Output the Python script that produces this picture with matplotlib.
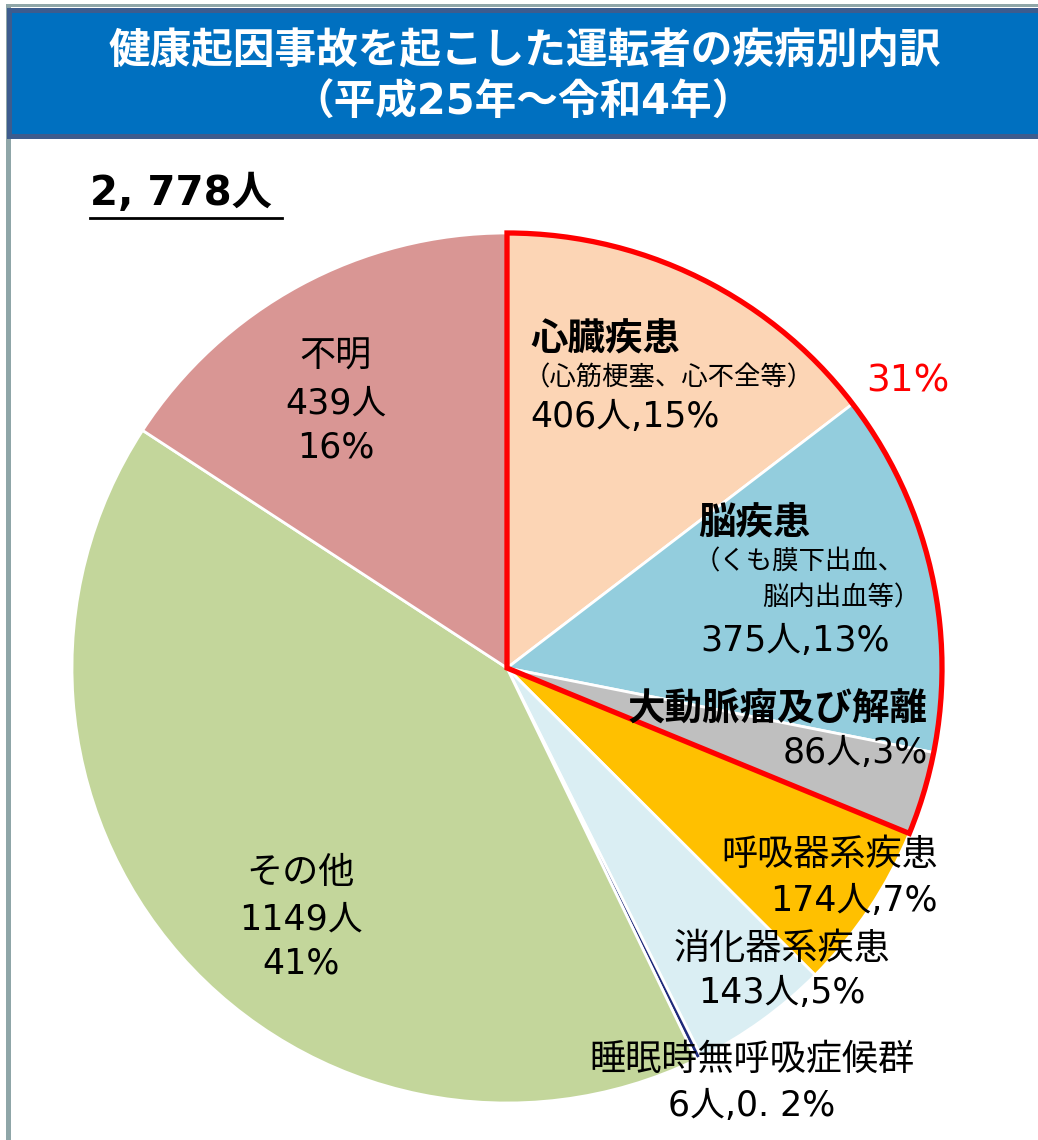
"""
Pie chart: 健康起因事故を起こした運転者の疾病別内訳 (平成25年～令和4年)
Output: out.png (1038 x 1140 px)
"""

import matplotlib
matplotlib.use('Agg')
import matplotlib.pyplot as plt
from matplotlib.patches import Rectangle, Wedge

plt.rcParams['font.family'] = ['Noto Sans CJK JP', 'DejaVu Sans']
NUM_FONT = ['DejaVu Sans', 'Noto Sans CJK JP']   # wider latin digits

# ── Data ───────────────────────────────────────────────────────────────────────
CATEGORIES = ['心臓疾患', '脳疾患', '大動脈瘤及び解離', '呼吸器系疾患',
              '消化器系疾患', '睡眠時無呼吸症候群', 'その他', '不明']
COUNTS     = [406, 375, 86, 174, 143, 6, 1149, 439]
PERCENTS   = ['15%', '13%', '3%', '7%', '5%', '0. 2%', '41%', '16%']
COLORS     = ['#FCD5B5', '#93CDDD', '#BFBFBF', '#FFC000',
              '#DAEEF3', '#1F2A7A', '#C3D69B', '#D99694']
N_HILITE   = 3            # first three slices are outlined in red (31%)
HILITE_PCT = '31%'
TOTAL_TXT  = '2, 778人'
TITLE_1    = '健康起因事故を起こした運転者の疾病別内訳'
TITLE_2    = '（平成25年～令和4年）'

# ── Layout (pixels, origin top-left) ──────────────────────────────────────────
W, H   = 1038, 1140
CX, CY = 507, 668
R      = 435


def fy(y):
    """pixel-from-top → data y"""
    return H - y


fig = plt.figure(figsize=(W / 100, H / 100), dpi=100)
ax = fig.add_axes([0, 0, 1, 1])

# pie
ax.pie(COUNTS, colors=COLORS, startangle=90, counterclock=False,
       center=(CX, fy(CY)), radius=R,
       wedgeprops=dict(edgecolor='white', linewidth=2.0))

# red outline around the first three slices
frac = sum(COUNTS[:N_HILITE]) / sum(COUNTS)
ax.add_patch(Wedge((CX, fy(CY)), R, 90 - 360 * frac, 90, fill=False,
                   edgecolor='#FF0000', linewidth=3.8, joinstyle='miter',
                   zorder=5))

# frame: grey lines + blue header box
ax.add_patch(Rectangle((6, 0), 4.5, fy(4), color='#8FA6A8', lw=0, zorder=1))
ax.add_patch(Rectangle((6, fy(7)), W, 3, color='#8FA6A8', lw=0, zorder=1))
ax.add_patch(Rectangle((7, fy(139)), W, 131, color='#3D5C8E', lw=0, zorder=2))
ax.add_patch(Rectangle((12, fy(134)), W, 121, color='#0070C0', lw=0, zorder=3))
ax.text(525, fy(52), TITLE_1, color='white', fontsize=30, fontweight='bold',
        ha='center', va='center', zorder=6)
ax.text(523, fy(103), TITLE_2, color='white', fontsize=30, fontweight='bold',
        ha='center', va='center', zorder=6, family=NUM_FONT)

# total
ax.text(90, fy(194), TOTAL_TXT, fontsize=29, fontweight='bold',
        ha='left', va='center', family=NUM_FONT)
ax.plot([90, 282], [fy(218), fy(218)], color='black', lw=2)

# labels
kw = dict(fontsize=26, color='black', va='center', zorder=7)
nkw = dict(kw, fontsize=25, family=NUM_FONT)
bkw = dict(kw, fontsize=27, fontweight='bold')
skw = dict(kw, fontsize=19)

# 心臓疾患
ax.text(530, fy(338), CATEGORIES[0], ha='left', **bkw)
ax.text(524, fy(378), '（心筋梗塞、心不全等）', ha='left', **skw)
ax.text(530, fy(417), f'{COUNTS[0]}人,{PERCENTS[0]}', ha='left', **nkw)
ax.text(866, fy(381), HILITE_PCT, ha='left', fontsize=27, color='#FF0000',
        va='center', zorder=7, family=NUM_FONT)

# 脳疾患
ax.text(698, fy(522), CATEGORIES[1], ha='left', **bkw)
ax.text(694, fy(562), '（くも膜下出血、', ha='left', **skw)
ax.text(920, fy(598), '脳内出血等）', ha='right', **skw)
ax.text(700, fy(641), f'{COUNTS[1]}人,{PERCENTS[1]}', ha='left', **nkw)

# 大動脈瘤及び解離
ax.text(928, fy(708), CATEGORIES[2], ha='right', **bkw)
ax.text(928, fy(753), f'{COUNTS[2]}人,{PERCENTS[2]}', ha='right', **nkw)

# 呼吸器系疾患
ax.text(938, fy(855), CATEGORIES[3], ha='right', **kw)
ax.text(938, fy(901), f'{COUNTS[3]}人,{PERCENTS[3]}', ha='right', **nkw)

# 消化器系疾患
ax.text(782, fy(949), CATEGORIES[4], ha='center', **kw)
ax.text(782, fy(993), f'{COUNTS[4]}人,{PERCENTS[4]}', ha='center', **nkw)

# 睡眠時無呼吸症候群
ax.text(752, fy(1060), CATEGORIES[5], ha='center', **kw)
ax.text(752, fy(1106), f'{COUNTS[5]}人,{PERCENTS[5]}', ha='center', **nkw)

# その他
ax.text(301, fy(873), CATEGORIES[6], ha='center', **kw)
ax.text(301, fy(920), f'{COUNTS[6]}人', ha='center', **nkw)
ax.text(301, fy(964), PERCENTS[6], ha='center', **nkw)

# 不明
ax.text(336, fy(357), CATEGORIES[7], ha='center', **kw)
ax.text(336, fy(404), f'{COUNTS[7]}人', ha='center', **nkw)
ax.text(336, fy(448), PERCENTS[7], ha='center', **nkw)

ax.set_xlim(0, W)
ax.set_ylim(0, H)
ax.set_aspect('auto')
ax.axis('off')

fig.savefig('out.png', dpi=100, facecolor='white')
plt.close(fig)
